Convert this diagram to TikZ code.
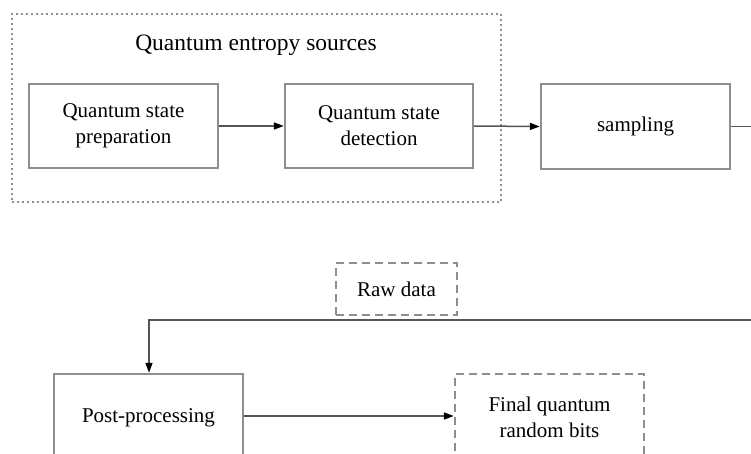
\documentclass[tikz,border=0pt]{standalone}
\usepackage{fontspec}
\setmainfont{Liberation Serif}
\usetikzlibrary{arrows.meta}
\definecolor{boxgray}{HTML}{8E8E8E}
\definecolor{linegray}{HTML}{555555}
\tikzset{
  block/.style={draw=boxgray, line width=2.4pt, fill=white, align=center,
    font=\fontsize{21}{26}\selectfont, inner sep=0pt},
  dashbox/.style={block, dash pattern=on 8pt off 5pt},
  groupbox/.style={draw=boxgray, line width=2pt, dash pattern=on 1.6pt off 3.4pt, inner sep=0pt},
  flow/.style={draw=linegray, line width=1.5pt,
    -{Triangle[length=10pt,width=7pt,color=black]}}
}
\begin{document}
\begin{tikzpicture}[x=1pt,y=-1pt]
  \useasboundingbox[clip] (0,0) rectangle (751,454);
  \fill[white] (0,0) rectangle (751,454);

  % entropy source group
  \node[groupbox, minimum width=489pt, minimum height=188pt] (group) at (256.5,108) {};
  \node[font=\fontsize{23.5}{28}\selectfont] (title) at (256,45) {Quantum entropy sources};

  % upper chain
  \node[block, minimum width=189pt, minimum height=84pt] (prep) at (123.5,126) {Quantum state\\preparation};
  \node[block, minimum width=188pt, minimum height=84pt] (detect) at (379,126) {Quantum state\\detection};
  \node[block, minimum width=189pt, minimum height=85pt] (sample) at (635.5,126.5) {sampling};

  % lower chain
  \node[dashbox, minimum width=121pt, minimum height=52pt] (raw) at (396.5,289) {Raw data};
  \node[block, minimum width=189pt, minimum height=88pt] (post) at (148.5,418) {Post-processing};
  \node[dashbox, minimum width=189pt, minimum height=86pt] (final) at (549.5,417) {Final quantum\\random bits};

  % feedback route from sampling back to post-processing
  \coordinate (turnA) at (790,126.5);
  \coordinate (turnB) at (790,320);
  \coordinate (turnC) at (149,320);

  \draw[flow] (prep.east) -- (detect.west);
  \draw[flow] (detect.east) -- (sample.west);
  \draw[flow] (sample.east) -- (turnA) -- (turnB) -- (turnC) -- (post.north -| turnC);
  \draw[flow] (post.east |- 0,416) -- (final.west |- 0,416);
\end{tikzpicture}
\end{document}
